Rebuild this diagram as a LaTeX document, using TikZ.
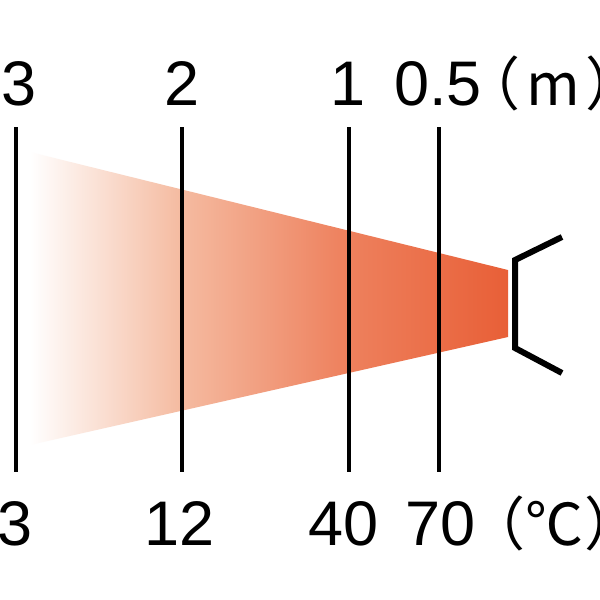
\documentclass[tikz,border=0pt]{standalone}
\usepackage{fontspec}
\setmainfont{Liberation Sans}
\newfontfamily\cjkfont{Noto Sans CJK JP}

\definecolor{heatA}{RGB}{245,188,162}
\definecolor{heatB}{RGB}{238,130,95}
\definecolor{heatC}{RGB}{232,95,55}
\pgfdeclarehorizontalshading{heatfade}{100bp}{color(0bp)=(white); color(25bp)=(white); color(40.5bp)=(heatA); color(57.5bp)=(heatB); color(75bp)=(heatC); color(100bp)=(heatC)}

\begin{document}
\begin{tikzpicture}[x=1pt, y=-1pt, every node/.style={inner sep=0pt, anchor=base, font=\fontsize{63}{63}\selectfont}]
  \fill[white] (0,0) rectangle (600,600);
  \useasboundingbox (0,0) rectangle (600,600);
  % heat beam
  \shade[shading=heatfade] (30,152) -- (508,270) -- (508,337) -- (30,445) -- cycle;
  % heater
  \draw[line width=6pt, line join=miter] (562,237) -- (515,260) -- (515,348) -- (562,373);
  % distance lines
  \foreach \x/\n in {16/a, 182/b, 349/c, 439/d} {
    \coordinate (top\n) at (\x,127);
    \coordinate (bot\n) at (\x,472);
    \draw[line width=3.5pt] (top\n) -- (bot\n);
  }
  % distances
  \node (m3) at (19,105) {3};
  \node (m2) at (182,105) {2};
  \node (m1) at (348,105) {1};
  \node (m05) at (438,105) {0.5};
  \node (munit) at (553,105) {\cjkfont\fontsize{58}{58}\selectfont （\kern6pt m\kern6pt ）};
  % temperatures
  \node (t3) at (15,545) {3};
  \node (t12) at (180,545) {12};
  \node (t40) at (344,545) {40};
  \node (t70) at (441,545) {70};
  \node (tunit) at (555,545) {\cjkfont\fontsize{58}{58}\selectfont （\kern1pt ℃\kern1pt ）};
\end{tikzpicture}
\end{document}
